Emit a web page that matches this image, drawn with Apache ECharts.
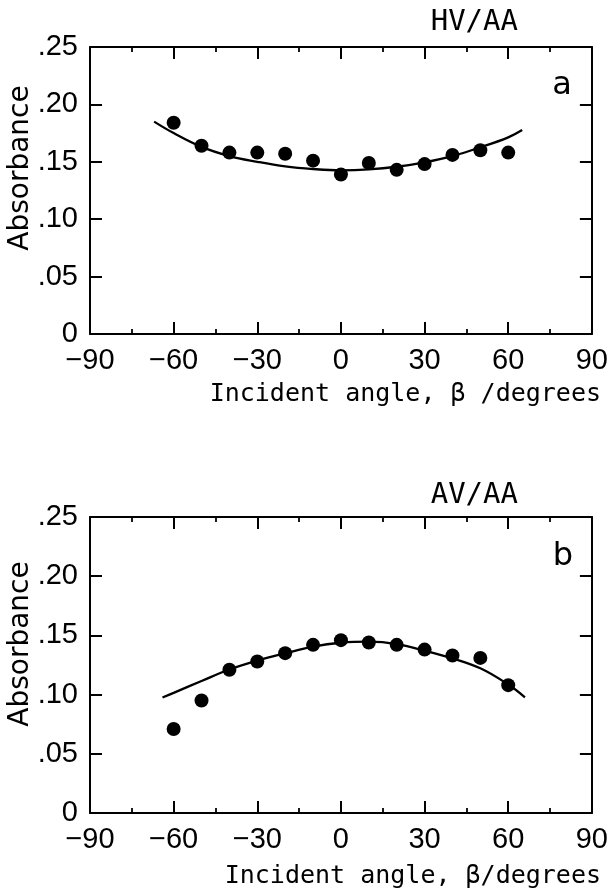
<!DOCTYPE html>
<html>
<head>
<meta charset="utf-8">
<script src="https://cdn.jsdelivr.net/npm/echarts@6/dist/echarts.min.js"></script>
<style>
html,body{margin:0;padding:0;background:#fff;}
#chart{width:611px;height:893px;}
</style>
</head>
<body>
<div id="chart"></div>
<script>
// ---- data ----
const xTicks = [-90, -60, -30, 0, 30, 60, 90];
const xTickLabels = ['\u221290', '\u221260', '\u221230', '0', '30', '60', '90'];
const yTickLabels = ['0', '.05', '.10', '.15', '.20', '.25'];

const angles = [-60, -50, -40, -30, -20, -10, 0, 10, 20, 30, 40, 50, 60];
const hvAbs = [0.184, 0.164, 0.158, 0.158, 0.157, 0.151, 0.139, 0.149, 0.143, 0.148, 0.156, 0.160, 0.158];
const avAbs = [0.071, 0.095, 0.121, 0.128, 0.135, 0.142, 0.146, 0.144, 0.142, 0.138, 0.133, 0.131, 0.108];

const hvFitAngles = [-67, -60, -50, -40, -30, -20, -10, 0, 10, 20, 30, 40, 50, 60, 65];
const hvFit = [0.185, 0.175, 0.163, 0.155, 0.150, 0.146, 0.1437, 0.1426, 0.1434, 0.1457, 0.1496, 0.155, 0.1626, 0.1713, 0.1777];

const avFitAngles = [-64, -60, -50, -40, -30, -20, -10, 0, 10, 20, 30, 40, 50, 60, 66];
const avFit = [0.0975, 0.1015, 0.1115, 0.1212, 0.1287, 0.1349, 0.1405, 0.1438, 0.1447, 0.1427, 0.1371, 0.1306, 0.1222, 0.1085, 0.0977];

const panelTitles = ['HV/AA', 'AV/AA'];
const panelLetters = ['a', 'b'];
const xNames = ['Incident angle, \u03b2 /degrees', 'Incident angle, \u03b2/degrees'];
const yName = 'Absorbance';

// ---- chart ----
const zip = (xs, ys) => xs.map((x, i) => [x, ys[i]]);
const black = '#000';

function xAxis(gridIndex, position, showLabel) {
  return {
    type: 'value', gridIndex: gridIndex, position: position,
    min: -90, max: 90, interval: 30,
    axisLine: { show: true, onZero: false, lineStyle: { color: black, width: 2 } },
    axisTick: { show: true, inside: true, length: 12, lineStyle: { color: black, width: 2 } },
    minorTick: { show: true, splitNumber: 2, length: 5, lineStyle: { color: black, width: 1.8 } },
    splitLine: { show: false }, minorSplitLine: { show: false },
    axisLabel: {
      show: showLabel, margin: 12, color: black,
      fontFamily: 'Liberation Sans', fontSize: 29,
      formatter: v => xTickLabels[xTicks.indexOf(v)]
    }
  };
}
function yAxis(gridIndex, position, showLabel) {
  return {
    type: 'value', gridIndex: gridIndex, position: position,
    min: 0, max: 0.25, interval: 0.05,
    axisLine: { show: true, onZero: false, lineStyle: { color: black, width: 2 } },
    axisTick: { show: true, inside: true, length: 12, lineStyle: { color: black, width: 2 } },
    splitLine: { show: false },
    axisLabel: {
      show: showLabel, margin: 12, color: black,
      fontFamily: 'Liberation Sans', fontSize: 29,
      formatter: v => yTickLabels[Math.round(v / 0.05)]
    }
  };
}
function txt(x, y, text, font, size, align, rot) {
  return {
    type: 'text', x: x, y: y, rotation: rot || 0,
    style: {
      text: text, fill: black, fontFamily: font, fontSize: size,
      textAlign: align, align: align, textVerticalAlign: 'middle', verticalAlign: 'middle'
    }
  };
}
const dotStyle = { color: black, opacity: 1 };
const fitStyle = { color: black, width: 2.3 };

const chart = echarts.init(document.getElementById('chart'), null, { renderer: 'canvas' });
chart.setOption({
  backgroundColor: '#fff',
  animation: false,
  grid: [
    { left: 90, top: 47, width: 504, height: 287 },
    { left: 90, top: 517, width: 503, height: 296 }
  ],
  xAxis: [xAxis(0, 'bottom', true), xAxis(0, 'top', false), xAxis(1, 'bottom', true), xAxis(1, 'top', false)],
  yAxis: [yAxis(0, 'left', true), yAxis(0, 'right', false), yAxis(1, 'left', true), yAxis(1, 'right', false)],
  series: [
    { type: 'scatter', xAxisIndex: 0, yAxisIndex: 0, data: zip(angles, hvAbs), symbolSize: 14, itemStyle: dotStyle, z: 3 },
    { type: 'line', xAxisIndex: 0, yAxisIndex: 0, data: zip(hvFitAngles, hvFit), smooth: 0.4, showSymbol: false, lineStyle: fitStyle, z: 2 },
    { type: 'scatter', xAxisIndex: 2, yAxisIndex: 2, data: zip(angles, avAbs), symbolSize: 14, itemStyle: dotStyle, z: 3 },
    { type: 'line', xAxisIndex: 2, yAxisIndex: 2, data: zip(avFitAngles, avFit), smooth: 0.4, showSymbol: false, lineStyle: fitStyle, z: 2 }
  ],
  graphic: [
    txt(518, 22, panelTitles[0], 'DejaVu Sans Mono', 29, 'right'),
    txt(562, 86, panelLetters[0], 'DejaVu Sans', 32, 'center'),
    txt(601, 394, xNames[0], 'DejaVu Sans Mono', 25, 'right'),
    txt(21, 168, yName, 'DejaVu Sans', 28, 'center', Math.PI / 2),
    txt(518, 495, panelTitles[1], 'DejaVu Sans Mono', 29, 'right'),
    txt(563, 557, panelLetters[1], 'DejaVu Sans', 32, 'center'),
    txt(601, 876, xNames[1], 'DejaVu Sans Mono', 25, 'right'),
    txt(21, 644, yName, 'DejaVu Sans', 28, 'center', Math.PI / 2)
  ]
});
</script>
</body>
</html>
